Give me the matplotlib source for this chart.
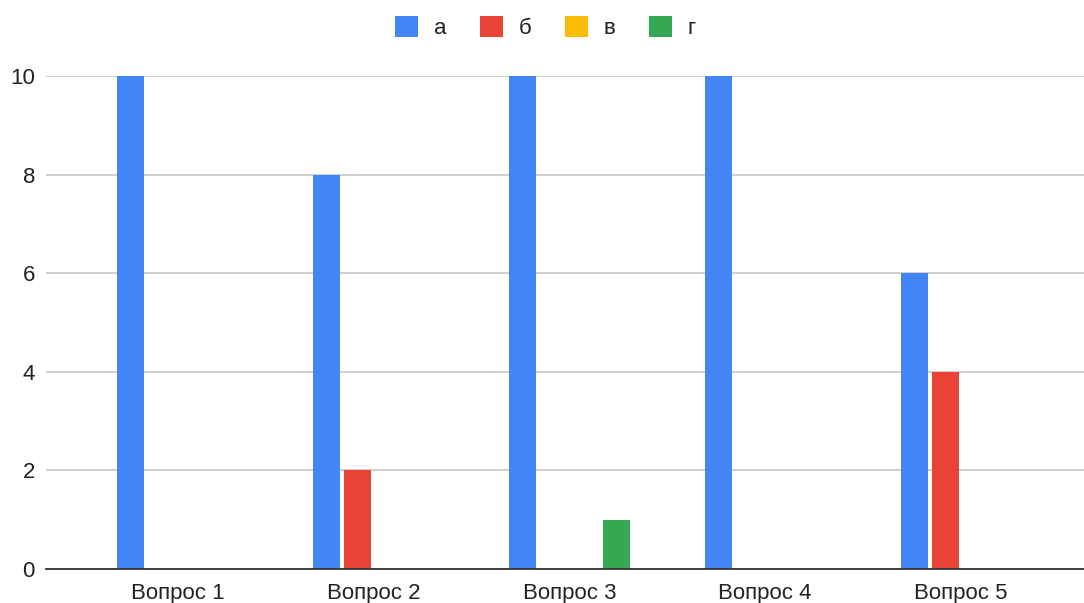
import numpy as np
import matplotlib.pyplot as plt

questions = ['Вопрос 1', 'Вопрос 2', 'Вопрос 3', 'Вопрос 4', 'Вопрос 5']
answers = ['а', 'б', 'в', 'г']
a_vals = [10, 8, 10, 10, 6]
b_vals = [0, 2, 0, 0, 4]
v_vals = [0, 0, 0, 0, 0]
g_vals = [0, 0, 1, 0, 0]
colors = ['#4285F4', '#EA4335', '#FBBC04', '#34A853']
yticks = [0, 2, 4, 6, 8, 10]


def main():
    plt.rcParams['font.family'] = ['Liberation Sans', 'DejaVu Sans']
    fig = plt.figure(figsize=(10.84, 6.03), dpi=100)
    ax = fig.add_axes([46/1084, 34/603, 1 - 46/1084, 493/603])

    x = np.arange(len(questions))
    width = 0.138
    step = 0.16
    series = [a_vals, b_vals, v_vals, g_vals]
    handles = []
    for k, (vals, name, col) in enumerate(zip(series, answers, colors)):
        h = ax.bar(x + (k - 1.5) * step, vals, width, color=col, label=name, zorder=3)
        handles.append(h)

    ax.set_xlim(-0.673, 4.628)
    ax.set_ylim(0, 10)
    ax.set_yticks(yticks)
    ax.set_xticks(x)
    ax.set_xticklabels(questions)
    ax.tick_params(axis='both', length=0, labelsize=16, colors='#222222')
    ax.tick_params(axis='x', pad=10)
    ax.tick_params(axis='y', pad=8)
    ax.grid(axis='y', color='#cccccc', linewidth=1.3, zorder=0)
    for s in ['top', 'right', 'left']:
        ax.spines[s].set_visible(False)
    ax.spines['bottom'].set_color('#333333')
    ax.spines['bottom'].set_linewidth(1.3)
    ax.spines['bottom'].set_zorder(4)
    ax.spines['bottom'].set_clip_on(False)

    fig.legend(handles=handles, labels=answers, loc='center', bbox_to_anchor=(0.503, 0.954),
               ncol=4, frameon=False, fontsize=16, handlelength=1.05, handleheight=1.05,
               handletextpad=0.7, columnspacing=1.5, labelcolor='#222222')

    fig.savefig('out.png', dpi=100)


if __name__ == "__main__":
    main()
